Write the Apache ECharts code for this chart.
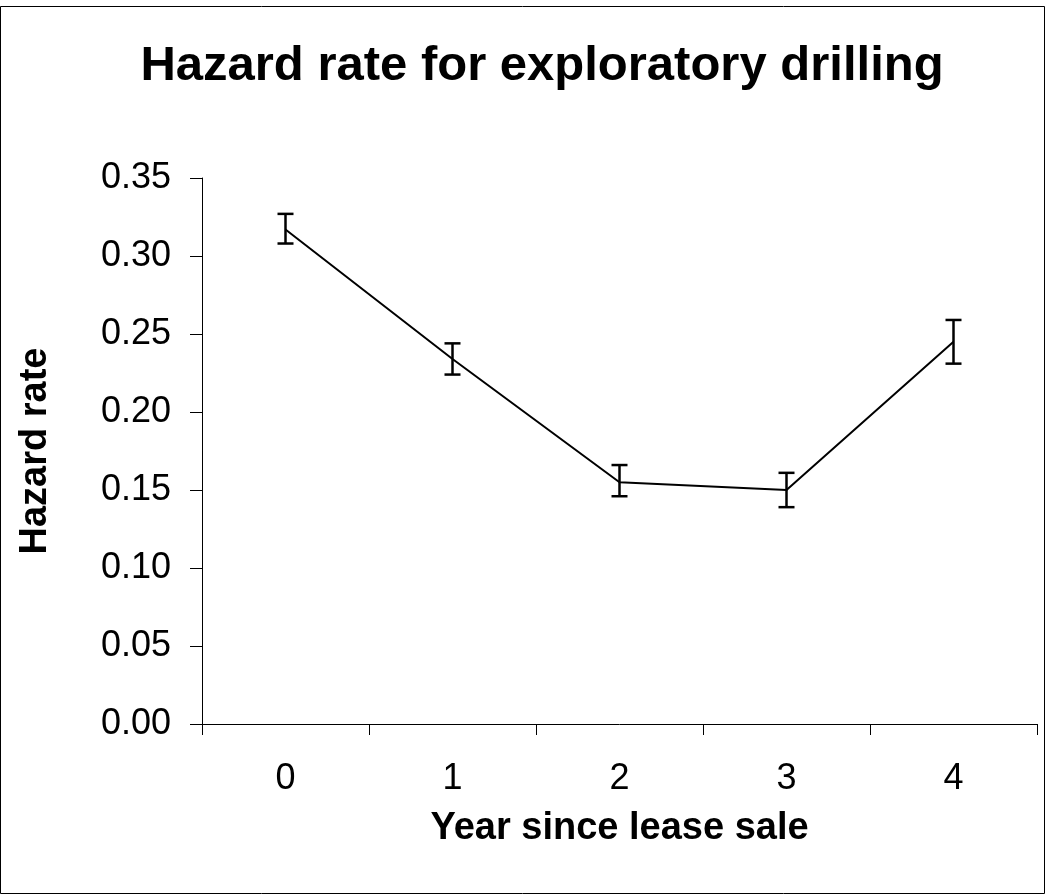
<!DOCTYPE html>
<html>
<head>
<meta charset="utf-8">
<script src="https://cdn.jsdelivr.net/npm/echarts@6/dist/echarts.min.js"></script>
<style>
  html, body { margin: 0; padding: 0; background: #fff; }
  #chart { width: 1045px; height: 895px; }
</style>
</head>
<body>
<div id="chart"></div>
<script>
// years since lease sale
const years = ['0', '1', '2', '3', '4'];
// hazard rate and its error bar ends
const hazard = [0.317, 0.234, 0.155, 0.150, 0.245];
const hazardLow = [0.308, 0.224, 0.146, 0.139, 0.231];
const hazardHigh = [0.327, 0.244, 0.166, 0.161, 0.259];

const font = 'Liberation Sans, Arial, sans-serif';

const errData = years.map((y, i) => [i, hazardLow[i], hazardHigh[i]]);

const chart = echarts.init(document.getElementById('chart'));

chart.setOption({
  backgroundColor: '#fff',
  animation: false,
  title: {
    text: 'Hazard rate for exploratory drilling',
    left: 537,
    textAlign: 'center',
    top: 37,
    textStyle: { fontFamily: font, fontSize: 49, fontWeight: 'bold', color: '#000' }
  },
  graphic: [{
    type: 'rect',
    shape: { x: 0.5, y: 6.5, width: 1044, height: 887 },
    style: { fill: 'none', stroke: '#000', lineWidth: 1 },
    silent: true
  }],
  grid: { left: 202, right: 8, top: 178, bottom: 171, containLabel: false, outerBoundsMode: 'none' },
  xAxis: {
    type: 'category',
    data: years,
    boundaryGap: true,
    name: 'Year since lease sale',
    nameLocation: 'middle',
    nameGap: 86,
    nameMoveOverlap: false,
    nameTextStyle: { fontFamily: font, fontSize: 38, fontWeight: 'bold', color: '#000' },
    axisLine: { lineStyle: { color: '#000', width: 1 } },
    axisTick: { show: true, length: 11, lineStyle: { color: '#000' } },
    axisLabel: { fontFamily: font, fontSize: 36, color: '#000', margin: 37 },
    splitLine: { show: false }
  },
  yAxis: {
    type: 'value',
    min: 0,
    max: 0.35,
    interval: 0.05,
    name: 'Hazard rate',
    nameLocation: 'middle',
    nameRotate: 90,
    nameGap: 147,
    nameMoveOverlap: false,
    nameTextStyle: { fontFamily: font, fontSize: 38, fontWeight: 'bold', color: '#000' },
    axisLine: { show: true, lineStyle: { color: '#000', width: 1 } },
    axisTick: { show: true, length: 12, lineStyle: { color: '#000' } },
    axisLabel: {
      fontFamily: font, fontSize: 36, color: '#000', margin: 31,
      formatter: v => v.toFixed(2)
    },
    splitLine: { show: false }
  },
  series: [
    {
      type: 'line',
      data: hazard,
      symbol: 'none',
      lineStyle: { color: '#000', width: 2 },
      z: 3
    },
    {
      type: 'custom',
      data: errData,
      z: 4,
      renderItem: (params, api) => {
        const lo = api.coord([api.value(0), api.value(1)]);
        const hi = api.coord([api.value(0), api.value(2)]);
        const half = 8;
        const style = { stroke: '#000', lineWidth: 2.5, fill: 'none' };
        return {
          type: 'group',
          children: [
            { type: 'line', shape: { x1: lo[0], y1: lo[1], x2: hi[0], y2: hi[1] }, style },
            { type: 'line', shape: { x1: hi[0] - half, y1: hi[1], x2: hi[0] + half, y2: hi[1] }, style },
            { type: 'line', shape: { x1: lo[0] - half, y1: lo[1], x2: lo[0] + half, y2: lo[1] }, style }
          ]
        };
      }
    }
  ]
});
</script>
</body>
</html>
